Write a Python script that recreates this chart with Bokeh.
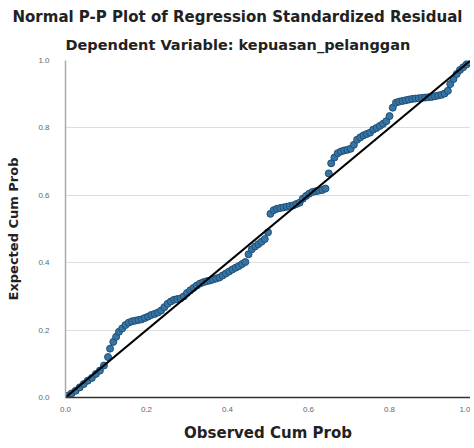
from bokeh.plotting import figure
from bokeh.models import Title, FixedTicker, Range1d
from bokeh.embed import file_html
from bokeh.resources import INLINE

observed = [0.005, 0.015, 0.025, 0.035, 0.045, 0.055, 0.065, 0.075, 0.085, 0.095,
            0.105, 0.110, 0.118, 0.125, 0.132, 0.140, 0.148, 0.156, 0.164, 0.172,
            0.180, 0.188, 0.196, 0.204, 0.212, 0.220, 0.228, 0.236, 0.244, 0.252,
            0.260, 0.268, 0.276, 0.284, 0.292, 0.300, 0.308, 0.316, 0.324, 0.332,
            0.340, 0.348, 0.356, 0.364, 0.372, 0.380, 0.388, 0.396, 0.404, 0.412,
            0.420, 0.428, 0.436, 0.444, 0.452, 0.460, 0.468, 0.476, 0.484, 0.492,
            0.500, 0.506, 0.514, 0.522, 0.530, 0.538, 0.546, 0.554, 0.562, 0.570,
            0.578, 0.586, 0.594, 0.602, 0.610, 0.618, 0.626, 0.634, 0.642, 0.650,
            0.656, 0.664, 0.672, 0.680, 0.688, 0.696, 0.704, 0.712, 0.720, 0.728,
            0.736, 0.744, 0.752, 0.760, 0.768, 0.776, 0.784, 0.792, 0.800, 0.808,
            0.816, 0.824, 0.832, 0.840, 0.848, 0.856, 0.864, 0.872, 0.880, 0.888,
            0.896, 0.904, 0.912, 0.920, 0.928, 0.936, 0.944, 0.950, 0.958, 0.966,
            0.974, 0.982, 0.990, 0.996]
expected = [0.005, 0.012, 0.020, 0.030, 0.040, 0.050, 0.058, 0.070, 0.080, 0.095,
            0.120, 0.145, 0.165, 0.180, 0.195, 0.205, 0.215, 0.222, 0.226, 0.228,
            0.230, 0.232, 0.236, 0.240, 0.245, 0.248, 0.252, 0.258, 0.268, 0.278,
            0.285, 0.290, 0.292, 0.294, 0.300, 0.310, 0.318, 0.325, 0.332, 0.338,
            0.342, 0.345, 0.347, 0.350, 0.353, 0.356, 0.362, 0.368, 0.374, 0.380,
            0.385, 0.390, 0.396, 0.402, 0.425, 0.440, 0.448, 0.455, 0.462, 0.470,
            0.490, 0.545, 0.556, 0.560, 0.562, 0.564, 0.566, 0.568, 0.570, 0.574,
            0.578, 0.590, 0.598, 0.605, 0.610, 0.612, 0.614, 0.616, 0.620, 0.665,
            0.695, 0.712, 0.725, 0.730, 0.733, 0.735, 0.738, 0.750, 0.765, 0.772,
            0.778, 0.782, 0.786, 0.795, 0.800, 0.806, 0.812, 0.820, 0.835, 0.860,
            0.875, 0.878, 0.880, 0.882, 0.884, 0.886, 0.887, 0.888, 0.889, 0.890,
            0.891, 0.892, 0.894, 0.896, 0.898, 0.902, 0.910, 0.930, 0.945, 0.960,
            0.972, 0.980, 0.988, 0.995]
diag = [0.0, 1.0]
ticks = [0.0, 0.2, 0.4, 0.6, 0.8, 1.0]
tick_labels = {0.0: "0.0", 0.2: "0.2", 0.4: "0.4", 0.6: "0.6", 0.8: "0.8", 1.0: "1.0"}
title_text = "Normal P-P Plot of Regression Standardized Residual"
subtitle_text = "Dependent Variable: kepuasan_pelanggan"

FONT = "DejaVu Sans"
TICKFONT = "Liberation Sans"

p = figure(width=470, height=444, output_backend="svg", toolbar_location=None,
           x_range=Range1d(0, 1), y_range=Range1d(0, 1),
           min_border_left=65, min_border_right=0, min_border_top=60, min_border_bottom=40)
p.outline_line_color = None
p.background_fill_color = "white"

sub = Title(text=subtitle_text, align="left", offset=0,
            text_font=FONT, text_font_size="14.5px", text_font_style="bold",
            text_color="#222222", standoff=15)
p.add_layout(sub, "above")
main = Title(text=title_text, align="left", offset=-53,
             text_font=FONT, text_font_size="15px", text_font_style="bold",
             text_color="#222222", standoff=4)
p.add_layout(main, "above")

p.scatter(observed, expected, size=7, fill_color="#3674a3", line_color="#1f4f78",
          line_width=1, marker="circle")
p.line(diag, diag, line_color="black", line_width=2)

for ax in (p.xaxis, p.yaxis):
    ax.ticker = FixedTicker(ticks=ticks)
    ax.major_label_overrides = tick_labels
    ax.major_tick_line_color = None
    ax.minor_tick_line_color = None
    ax.major_label_text_font = TICKFONT
    ax.major_label_text_font_size = "8px"
    ax.major_label_text_color = "#666666"
    ax.axis_label_text_font = FONT
    ax.axis_label_text_font_style = "bold"
    ax.axis_label_text_color = "#222222"

p.xaxis.axis_label = "Observed Cum Prob"
p.xaxis.axis_label_text_font_size = "15px"
p.xaxis.axis_line_color = "#333333"
p.xaxis.axis_line_width = 1.5
p.xaxis.major_label_standoff = 3
p.xaxis.axis_label_standoff = 9

p.yaxis.axis_label = "Expected Cum Prob"
p.yaxis.axis_label_text_font_size = "13px"
p.yaxis.axis_line_color = "#aaaaaa"
p.yaxis.axis_line_width = 1.5
p.yaxis.major_label_standoff = 10
p.yaxis.axis_label_standoff = 14

p.xgrid.grid_line_color = None
p.ygrid.ticker = FixedTicker(ticks=[0.2, 0.4, 0.6, 0.8, 1.0])
p.ygrid.grid_line_color = "#dddddd"
p.ygrid.grid_line_width = 1

open("out.html", "w").write(file_html(p, INLINE))
